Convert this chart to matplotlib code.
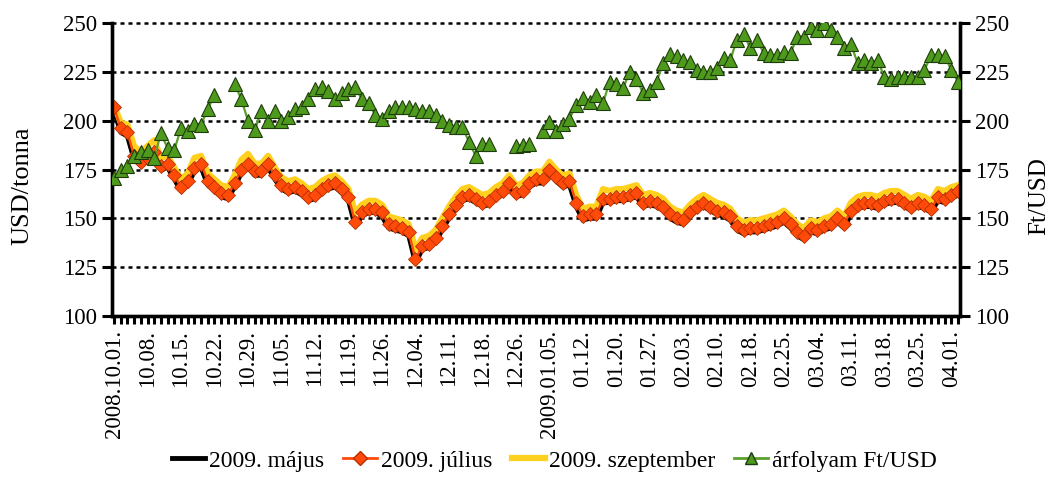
import numpy as np
import matplotlib
matplotlib.use("Agg")
import matplotlib.pyplot as plt
from matplotlib.lines import Line2D

nan = np.nan

# tick labels (every 5th trading day)
date_labels = ["2008.10.01.", "10.08.", "10.15.", "10.22.", "10.29.", "11.05.",
               "11.12.", "11.19.", "11.26.", "12.04.", "12.11.", "12.18.",
               "12.26.", "2009.01.05.", "01.12.", "01.20.", "01.27.", "02.03.",
               "02.10.", "02.18.", "02.25.", "03.04.", "03.11.", "03.18.",
               "03.25.", "04.01."]

# 2009. május (USD/tonna)
majus = [205, 194, 192, 180, 177, 179, 182, 175, 176, 170,
         164, 167, 174, 176, 167, 164, 161, 160, 166, 173,
         176, 172, 172, 176, 170, 165, 163, 164, 162, 159,
         160, 163, 165, 166, 163, 159, 146, 151, 153, 153,
         151, 145, 144, 143, 141, 127, 134, 135, 138, 144,
         150, 155, 159, 160, 158, 156, 157, 160, 162, 166,
         161, 162, 166, 168, 168, 173, 169, 166, 167, 156,
         149, 150, 150, 158, 158, 159, 159, 160, 161, 156,
         157, 156, 154, 150, 148, 147, 151, 154, 156, 154,
         152, 151, 149, 144, 142, 143, 143, 144, 145, 146,
         148, 145, 141, 139, 143, 142, 144, 145, 148, 145,
         152, 155, 156, 156, 155, 157, 158, 158, 156, 154,
         156, 155, 153, 159, 158, 160, 162]

# 2009. július (USD/tonna)
julius = [207, 196, 194, 182, 179, 181, 184, 177, 178, 172,
          166, 169, 176, 178, 169, 166, 163, 162, 168, 175,
          178, 174, 174, 178, 172, 167, 165, 166, 164, 161,
          162, 165, 167, 168, 165, 161, 148, 153, 155, 155,
          153, 147, 146, 145, 143, 129, 136, 137, 140, 146,
          152, 157, 161, 162, 160, 158, 159, 162, 164, 168,
          163, 164, 168, 170, 170, 175, 171, 168, 169, 158,
          151, 152, 152, 160, 160, 161, 161, 162, 163, 158,
          159, 158, 156, 152, 150, 149, 153, 156, 158, 156,
          154, 153, 151, 146, 144, 145, 145, 146, 147, 148,
          150, 147, 143, 141, 145, 144, 146, 147, 150, 147,
          154, 157, 158, 158, 157, 159, 160, 160, 158, 156,
          158, 157, 155, 161, 160, 162, 164]

# 2009. szeptember (USD/tonna)
szeptember = [208, 199, 198, 187, 184, 187, 190, 181, 182, 176,
              170, 173, 181, 182, 173, 170, 167, 166, 172, 180,
              183, 178, 178, 182, 176, 171, 169, 170, 168, 165,
              166, 169, 171, 172, 169, 165, 153, 157, 159, 159,
              157, 151, 150, 149, 147, 134, 140, 141, 144, 150,
              156, 161, 165, 166, 164, 162, 163, 166, 168, 172,
              167, 168, 172, 174, 174, 179, 175, 172, 173, 162,
              155, 156, 156, 165, 164, 165, 165, 166, 167, 162,
              163, 162, 160, 156, 154, 153, 157, 160, 162, 160,
              158, 157, 155, 150, 148, 149, 149, 150, 151, 152,
              154, 151, 147, 145, 149, 148, 150, 151, 154, 151,
              158, 161, 162, 162, 161, 163, 164, 164, 162, 160,
              162, 161, 159, 165, 164, 166, 167]

# árfolyam Ft/USD
arfolyam = [170.5, 174.5, 177, 182, 184, 185, 181, 193.5, 186, 185,
            196, 194.5, 198.5, 198, 206, 213, nan, nan, 219, 211,
            200, 195, 205, 200, 205, 200, 202, 206, 207, 211,
            216, 217, 215, 211, 214, 216, 217, 211, 209, 203,
            201, 205, 207, 207, 207, 206, 205, 205, 203, 200,
            198, 197, 197, 189, 182, 188, 188, nan, nan, nan,
            187, 187.5, 188, nan, 194.5, 199.5, 194.5, 198.5, 201, 208,
            211.5, 209.5, 213, 209, 220, 219, 216.5, 225, 221.5, 214,
            215.5, 220, 229.5, 234, 233, 231, 230, 226, 225, 225,
            227, 232, 231, 241.5, 244.5, 237, 241.5, 234.5, 233.5, 233.5,
            235, 234.5, 243, 243, 248, 246.5, 250, 246.5, 243, 237,
            239.5, 229.5, 231, 229.5, 231, 222.5, 221.5, 222.5, 222.5, 222.5,
            222.5, 226, 233.5, 233.5, 233, 226, 220]

series_names = ["2009. május", "2009. július", "2009. szeptember", "árfolyam Ft/USD"]

plt.rcParams['font.family'] = ['Liberation Serif', 'DejaVu Serif']

N = len(julius)
x = np.arange(N)

W, H = 1052, 488
fig = plt.figure(figsize=(W / 100, H / 100), dpi=100)
ax = fig.add_axes([112 / W, 1 - 316 / H, (960 - 112) / W, (316 - 23) / H])

c_black = "#000000"
c_orange = "#FF4A0A"
c_yellow = "#FFD01E"
c_green_line = "#5AA02C"
c_green_fill = "#4E9A1C"

ax.plot(x, majus, color=c_black, lw=3.4, zorder=3)
ax.plot(x, szeptember, color=c_yellow, lw=4.4, zorder=4)
ax.plot(x, julius, color=c_orange, lw=1.8, marker="D", markersize=7,
        markerfacecolor=c_orange, markeredgecolor="#B83000", markeredgewidth=0.6, zorder=5)

ax.set_xlim(-0.3, N - 1 + 0.3)
ax.set_ylim(100, 250)
ax.set_yticks(np.arange(100, 251, 25))
ax.yaxis.grid(True, color="black", linestyle=(0, (1.6, 1.6)), lw=1.8)
for gl in ax.yaxis.get_gridlines():
    gl.set_clip_on(False)
ax.set_axisbelow(True)

ax.set_xticks(x)
lab = [""] * N
for k, t in enumerate(date_labels):
    lab[k * 5] = t
ax.set_xticklabels(lab, rotation=90, fontsize=16.5)
ax.tick_params(axis="x", direction="out", length=6, width=2.2, pad=4)
ax.tick_params(axis="y", direction="out", length=7, width=2.2, labelsize=16.5, pad=4)

ax.spines["top"].set_visible(False)
for s in ["left", "right", "bottom"]:
    ax.spines[s].set_linewidth(2.4)

ax2 = ax.twinx()
ax2.plot(x, arfolyam, color=c_green_line, lw=1.6, marker="^", markersize=9.5,
         markerfacecolor=c_green_fill, markeredgecolor="#1F3D0C", markeredgewidth=0.8, zorder=6)
ax2.set_ylim(100, 250)
ax2.set_yticks(np.arange(100, 251, 25))
ax2.tick_params(axis="y", direction="out", length=7, width=2.2, labelsize=16.5, pad=4)
ax2.spines["top"].set_visible(False)
for s in ["left", "right", "bottom"]:
    ax2.spines[s].set_linewidth(2.4)

# axis titles
fig.text(22 / W, 1 - 186 / H, "USD/tonna", rotation=90, ha="center", va="center", fontsize=19)
fig.text(1039 / W, 1 - 196 / H, "Ft/USD", rotation=90, ha="center", va="center", fontsize=18)

handles = [
    Line2D([], [], color=c_black, lw=3.5),
    Line2D([], [], color=c_orange, lw=2, marker="D", markersize=7,
           markerfacecolor=c_orange, markeredgecolor="#B83000"),
    Line2D([], [], color=c_yellow, lw=4.5),
    Line2D([], [], color=c_green_line, lw=2, marker="^", markersize=9,
           markerfacecolor=c_green_fill, markeredgecolor="#1F3D0C"),
]
fig.legend(handles, series_names, loc="lower center", bbox_to_anchor=(0.527, -0.01),
           ncol=4, frameon=False, fontsize=17, handlelength=1.4,
           handletextpad=0.2, columnspacing=0.8)

fig.savefig("out.png", dpi=100)
